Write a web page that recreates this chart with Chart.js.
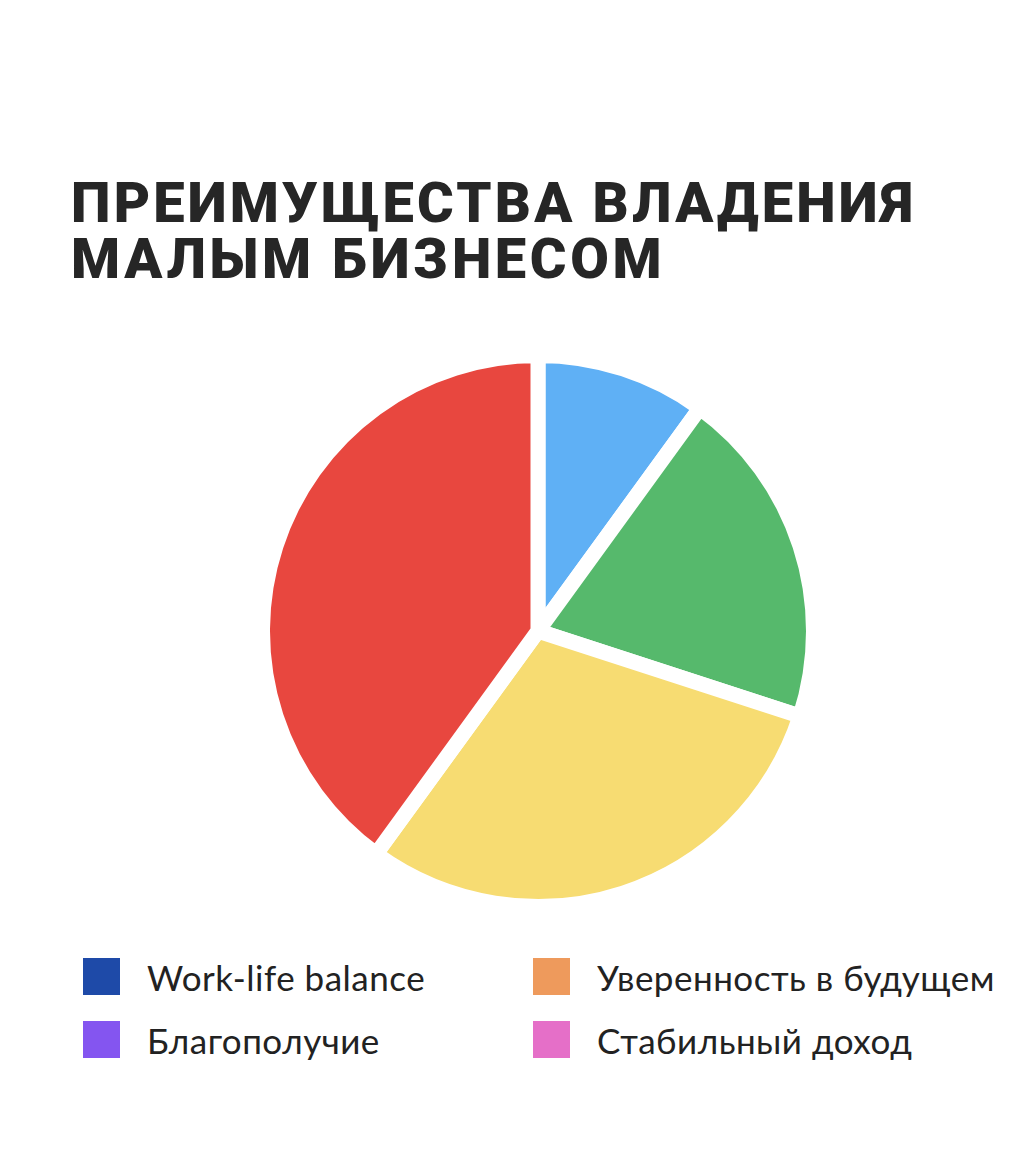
<!DOCTYPE html>
<html>
<head>
<meta charset="utf-8">
<script src="https://cdn.jsdelivr.net/npm/chart.js@4/dist/chart.umd.min.js"></script>
<style>
  html, body { margin: 0; padding: 0; background: #ffffff; }
  body { width: 1025px; height: 1152px; position: relative; overflow: hidden; }
  #title {
    position: absolute; left: 71px; top: 175px;
    font-family: "Roboto", sans-serif; font-weight: 900;
    font-size: 56px; line-height: 56px; color: #262626;
    white-space: nowrap; letter-spacing: 3.2px;
  }
  #title div { display: block; }
  #wrap { position: absolute; left: 255px; top: 348px; width: 566px; height: 566px; }
  #legend { position: absolute; left: 83px; top: 958px; width: 940px; }
  .item { position: absolute; display: flex; align-items: center; height: 37px; }
  .sw { width: 37px; height: 37px; margin-right: 27px; flex: none; }
  .lbl { font-family: "Lato", sans-serif; font-size: 35px; letter-spacing: 0.5px; color: #222222; white-space: nowrap; }
</style>
</head>
<body>
<div id="title"><div>ПРЕИМУЩЕСТВА ВЛАДЕНИЯ</div><div style="letter-spacing:3.6px">МАЛЫМ БИЗНЕСОМ</div></div>
<div id="wrap"><canvas id="c"></canvas></div>
<div id="legend"></div>
<script>
// Pie slices (clockwise from top)
const sliceNames = ["Blue", "Green", "Yellow", "Red"];
const sliceValues = [10, 20, 30, 40];
const sliceColors = ["#5fb0f5", "#56b96c", "#f7dc72", "#e8473f"];

// Legend (does not match slices, as in the original)
const legendLabels = ["Work-life balance", "Уверенность в будущем", "Благополучие", "Стабильный доход"];
const legendColors = ["#1e4aa8", "#ee9a5c", "#8455f0", "#e56fc8"];

const legendPos = [[0, 0], [450, 0], [0, 63], [450, 63]];
const legend = document.getElementById('legend');
legendLabels.forEach((t, i) => {
  const d = document.createElement('div');
  d.className = 'item';
  d.style.left = legendPos[i][0] + 'px';
  d.style.top = legendPos[i][1] + 'px';
  const s = document.createElement('div');
  s.className = 'sw';
  s.style.background = legendColors[i];
  const l = document.createElement('span');
  l.className = 'lbl';
  l.textContent = t;
  d.appendChild(s); d.appendChild(l);
  legend.appendChild(d);
});

new Chart(document.getElementById('c'), {
  type: 'pie',
  data: {
    labels: sliceNames,
    datasets: [{
      data: sliceValues,
      backgroundColor: sliceColors,
      borderColor: '#ffffff',
      borderWidth: 15
    }]
  },
  options: {
    responsive: true,
    maintainAspectRatio: false,
    animation: false,
    layout: { padding: 0 },
    plugins: { legend: { display: false }, tooltip: { enabled: false } }
  }
});
</script>
</body>
</html>
